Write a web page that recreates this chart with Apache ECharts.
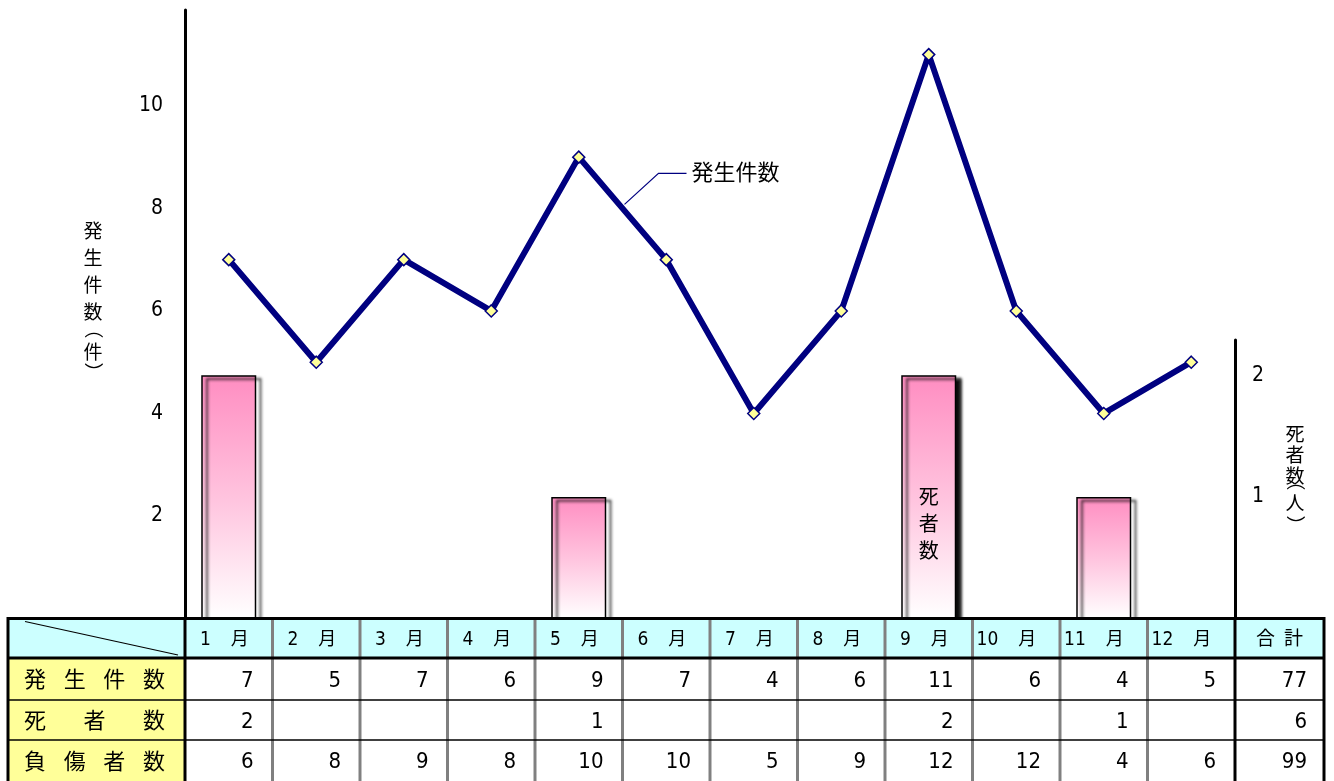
<!DOCTYPE html>
<html><head><meta charset="utf-8">
<script src="https://cdn.jsdelivr.net/npm/echarts@6/dist/echarts.min.js"></script>
<style>html,body{margin:0;padding:0;background:#fff}#c{width:1334px;height:781px}</style>
</head><body><div id="c"></div>
<script>
const months = ['1','2','3','4','5','6','7','8','9','10','11','12'];
const incidents = [7,5,7,6,9,7,4,6,11,6,4,5];
const deaths = [2,null,null,null,1,null,null,null,2,null,1,null];
const injuries = [6,8,9,8,10,10,5,9,12,12,4,6];
const totals = [77,6,99];
const rowLabels = ['発生件数','死者数','負傷者数'];
const totalHeader = '合計';
const monthSuffix = '月';
const lineLabel = '発生件数';
const barLabelText = '死者数';
const barLabelIndex = 8;
const leftAxisName = ['発','生','件','数','（','件','）'];
const rightAxisName = ['死','者','数','（','人','）'];

const NUMF = "'Liberation Sans Narrow','DejaVu Sans Condensed','Noto Sans CJK JP',sans-serif";
const CJKF = "'Noto Sans CJK JP',sans-serif";

const chart = echarts.init(document.getElementById('c'), null, {renderer:'canvas'});

const barData = deaths.map((v,i)=> i===barLabelIndex ? {
  value:v,
  label:{show:true, position:'inside', formatter: barLabelText.split('').join('\n'),
    offset:[0,27], fontSize:20, lineHeight:27, color:'#000', fontFamily:CJKF}
} : v);

const option = {
  backgroundColor:'#fff',
  animation:false,
  grid:[
    {left:185, width:1050, top:10, bottom:162.5, containLabel:false},
    {left:185, width:1050, top:340, bottom:162.5, containLabel:false}
  ],
  xAxis:[
    {type:'category', gridIndex:0, data:months, boundaryGap:true,
     axisLine:{show:false}, axisTick:{show:false}, axisLabel:{show:false}, splitLine:{show:false}},
    {type:'category', gridIndex:1, data:months, boundaryGap:true,
     axisLine:{show:false}, axisTick:{show:false}, axisLabel:{show:false}, splitLine:{show:false}}
  ],
  yAxis:[
    {type:'value', gridIndex:0, min:0, max:11.87, interval:2, position:'left',
     axisLine:{show:true, lineStyle:{color:'#000', width:3}}, axisTick:{show:false},
     splitLine:{show:false},
     axisLabel:{margin:22, fontSize:21, color:'#000', fontFamily:NUMF, padding:[5,0,0,0],
       showMinLabel:false, showMaxLabel:false,
       formatter:v=> (v>0 && Number.isInteger(v)) ? String(v) : ''}},
    {type:'value', gridIndex:1, min:0, max:2.29, interval:1, position:'right',
     axisLine:{show:true, lineStyle:{color:'#000', width:3}}, axisTick:{show:false},
     splitLine:{show:false},
     axisLabel:{margin:17, fontSize:21, color:'#000', fontFamily:NUMF, padding:[5,0,0,0],
       showMinLabel:false, showMaxLabel:false,
       formatter:v=> (v>0 && Number.isInteger(v)) ? String(v) : ''}}
  ],
  series:[
    {type:'bar', xAxisIndex:1, yAxisIndex:1, data:barData, barWidth:55, z:2,
     itemStyle:{
       color:new echarts.graphic.LinearGradient(0,0,0,1,[
         {offset:0,color:'#FF8DC1'},{offset:0.5,color:'#FFC3DE'},{offset:1,color:'#FFFFFF'}]),
       borderColor:'#000', borderWidth:1.5,
       shadowColor:'rgba(0,0,0,0.95)', shadowBlur:3, shadowOffsetX:5, shadowOffsetY:3
     }},
    {type:'line', xAxisIndex:0, yAxisIndex:0, data:incidents, z:5,
     symbol:'diamond', symbolSize:12, showAllSymbol:true,
     lineStyle:{color:'#000080', width:6},
     itemStyle:{color:'#FFFF99', borderColor:'#000080', borderWidth:1.5}}
  ]
};
chart.setOption(option);

function txt(x,y,s,o){
  return {type:'text', silent:true, z:20, style:Object.assign({
    x:x, y:y, text:s, fill:'#000', fontSize:20, fontFamily:CJKF,
    textAlign:'center', textVerticalAlign:'middle', align:'center', verticalAlign:'middle'}, o||{})};
}
function vtxt(x,y,s,size){
  const isBr = (s==='（' || s==='）');
  return {type:'text', silent:true, z:20, x:x, y:y, rotation: isBr ? -Math.PI/2 : 0,
    style:{x:0, y:0, text:s, fill:'#000', fontSize:size, fontFamily:CJKF,
      textAlign:'center', textVerticalAlign:'middle', align:'center', verticalAlign:'middle'}};
}
function ln(x1,y1,x2,y2,c,w){
  return {type:'line', silent:true, z:19, shape:{x1,y1,x2,y2}, style:{stroke:c, lineWidth:w}};
}
function rc(x,y,w,h,f){
  return {type:'rect', silent:true, z:18, shape:{x,y,width:w,height:h}, style:{fill:f}};
}

function build(){
  const els = [];
  const c0 = chart.convertToPixel({xAxisIndex:0}, 0);
  const c1 = chart.convertToPixel({xAxisIndex:0}, 1);
  const bw = c1 - c0;
  const xStart = c0 - bw/2;
  const xEnd = xStart + bw*months.length;
  const tL = 8, tR = 1324;
  const rowY = [618.5, 658, 700, 740, 781];
  els.push(rc(tL, rowY[0], tR-tL, rowY[1]-rowY[0], '#CCFFFF'));
  els.push(rc(tL, rowY[1], xStart-tL, rowY[4]-rowY[1], '#FFFF99'));
  els.push(rc(xStart, rowY[1], tR-xStart, rowY[4]-rowY[1], '#FFFFFF'));
  for (let i=1;i<months.length;i++){
    const x = xStart + bw*i;
    els.push(ln(x, rowY[0], x, rowY[4], '#808080', 3));
  }
  els.push(ln(tL, rowY[2], tR, rowY[2], '#000', 1.5));
  els.push(ln(tL, rowY[3], tR, rowY[3], '#000', 1.5));
  els.push(ln(tL, rowY[0], tR, rowY[0], '#000', 3));
  els.push(ln(tL, rowY[1], tR, rowY[1], '#000', 3));
  els.push(ln(tL, rowY[0]-1.5, tL, rowY[4], '#000', 3));
  els.push(ln(tR, rowY[0]-1.5, tR, rowY[4], '#000', 3));
  els.push(ln(xStart, rowY[0]-1.5, xStart, rowY[4], '#000', 3));
  els.push(ln(xEnd, rowY[0]-1.5, xEnd, rowY[4], '#000', 3));
  els.push(ln(tL+17, rowY[0]+3, xStart-7, rowY[1]-3, '#000', 1.2));
  const hy = (rowY[0]+rowY[1])/2;
  months.forEach((m,i)=>{
    const cx = c0 + bw*i;
    els.push(txt(cx-18, hy+2, m, {fontFamily:NUMF, fontSize:19, textAlign:'right', align:'right'}));
    els.push(txt(cx+11, hy, monthSuffix, {fontSize:18}));
  });
  const tcx = (xEnd+tR)/2;
  els.push(txt(tcx-14, hy, totalHeader[0], {fontSize:19}));
  els.push(txt(tcx+14, hy, totalHeader[1], {fontSize:19}));
  rowLabels.forEach((lab,r)=>{
    const cy = (rowY[r+1]+rowY[r+2])/2;
    const chars = lab.split('');
    const a = tL+27, b = xStart-31;
    chars.forEach((ch,k)=>{
      const x = a + k*(b-a)/(chars.length-1);
      els.push(txt(x, cy, ch, {fontSize:22}));
    });
  });
  const rows = [incidents, deaths, injuries];
  rows.forEach((arr,r)=>{
    const cy = (rowY[r+1]+rowY[r+2])/2 + 2;
    arr.forEach((v,i)=>{
      if (v===null || v===undefined) return;
      const xr = xStart + bw*(i+1) - 19;
      els.push(txt(xr, cy, String(v), {fontFamily:NUMF, fontSize:22, textAlign:'right', align:'right'}));
    });
    els.push(txt(tR-17, cy, String(totals[r]), {fontFamily:NUMF, fontSize:22, textAlign:'right', align:'right'}));
  });
  const leftY = [231, 258, 285, 312, 329, 352, 372];
  leftAxisName.forEach((ch,k)=> els.push(vtxt(93, leftY[k], ch, 19)));
  const rightY = [434, 455, 476, 481, 503, 525];
  rightAxisName.forEach((ch,k)=> els.push(vtxt(1295, rightY[k], ch, 19)));
  const p4 = chart.convertToPixel({seriesIndex:1}, [4, incidents[4]]);
  const p5 = chart.convertToPixel({seriesIndex:1}, [5, incidents[5]]);
  const mx = (p4[0]+p5[0])/2, my = (p4[1]+p5[1])/2;
  els.push({type:'polyline', silent:true, z:19, shape:{points:[[mx+2,my-4],[mx+36,my-35],[mx+64,my-35]]},
    style:{stroke:'#000080', lineWidth:1.2, fill:null}});
  els.push(txt(mx+69, my-37, lineLabel, {fontSize:22, textAlign:'left', align:'left'}));
  chart.setOption({graphic:{elements:els}});
}
build();
</script>
</body></html>
